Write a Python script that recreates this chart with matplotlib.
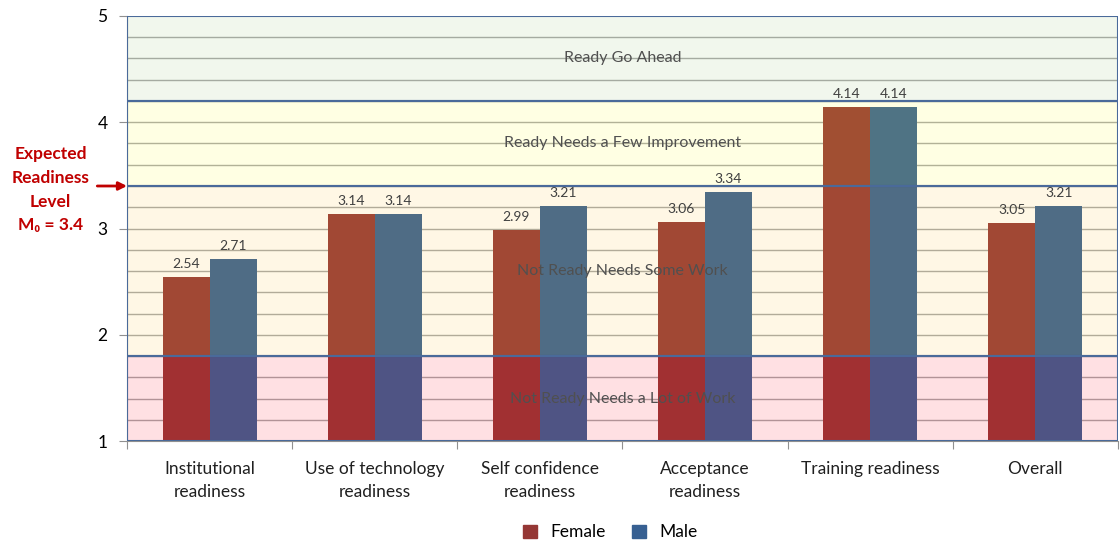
import matplotlib.pyplot as plt
import matplotlib.patches as mpatches
import numpy as np

plt.rcParams['font.family'] = ['Lato', 'DejaVu Sans']

# readiness scores per dimension
categories = ["Institutional\nreadiness", "Use of technology\nreadiness", "Self confidence\nreadiness",
              "Acceptance\nreadiness", "Training readiness", "Overall"]
female = [2.54, 3.14, 2.99, 3.06, 4.14, 3.05]
male = [2.71, 3.14, 3.21, 3.34, 4.14, 3.21]

# readiness zones (lower, upper, label)
zone_edges = [1.0, 1.8, 3.4, 4.2, 5.0]
zone_labels = ["Not Ready Needs a Lot of Work", "Not Ready Needs Some Work",
               "Ready Needs a Few Improvement", "Ready Go Ahead"]
expected_level = 3.4

female_color = "#953735"
male_color = "#376092"
zone_colors = [(1.0, 0.0, 0.12, 0.12), (1.0, 0.77, 0.18, 0.12),
               (1.0, 1.0, 0.12, 0.12), (0.57, 0.77, 0.44, 0.12)]
edge_color = "#4A6A9A"

fig = plt.figure(figsize=(11.2, 5.42), dpi=100)
ax = fig.add_axes([0.1134, 0.1863, 0.8846, 0.7842])

x = np.arange(len(categories)) + 0.5
w = 0.285

# light grid every 0.2
for yv in np.arange(1.2, 5.0, 0.2):
    ax.axhline(yv, color="#A8A8A8", lw=1, zorder=1)

b1 = ax.bar(x - w / 2, female, w, bottom=0, color=female_color, zorder=2)
b2 = ax.bar(x + w / 2, male, w, bottom=0, color=male_color, zorder=2)

for bars, vals in ((b1, female), (b2, male)):
    for rect, v in zip(bars, vals):
        ax.annotate("%.2f" % v, (rect.get_x() + rect.get_width() / 2, v),
                    xytext=(0, 5), textcoords="offset points", ha="center", va="bottom",
                    fontsize=10, color="#404040", zorder=5)

# translucent zones over the bars
for i, lab in enumerate(zone_labels):
    lo, hi = zone_edges[i], zone_edges[i + 1]
    ax.add_patch(mpatches.Rectangle((0, lo), len(categories), hi - lo, facecolor=zone_colors[i],
                                    edgecolor="none", zorder=3))
    ax.add_patch(mpatches.Rectangle((0, lo), len(categories), hi - lo, facecolor="none",
                                    edgecolor=edge_color, lw=1.5, zorder=4))
    ax.text(len(categories) / 2, (lo + hi) / 2, lab, ha="center", va="center",
            fontsize=11.5, color="#505050", zorder=5)

ax.set_xlim(0, len(categories))
ax.set_ylim(1, 5)
ax.set_yticks([1, 2, 3, 4, 5])
ax.set_xticks(np.arange(len(categories) + 1))
ax.set_xticklabels([])
ax.set_xticks(x, minor=True)
ax.set_xticklabels(categories, minor=True, fontsize=12.5, color="#202020", linespacing=1.55)
ax.tick_params(axis="x", which="minor", length=0, pad=14.5)
ax.tick_params(axis="x", which="major", length=6, color="#909090")
ax.tick_params(axis="y", length=6, color="#909090", labelsize=12.5, pad=8)
for s in ("top", "right"):
    ax.spines[s].set_visible(False)
ax.spines["left"].set_color("#909090")
ax.spines["bottom"].set_color("#909090")

# expected readiness marker
ax.annotate("", xy=(0, expected_level), xytext=(-0.18, expected_level),
            arrowprops=dict(arrowstyle="-|>", color="#C00000", lw=2, mutation_scale=12,
                            shrinkA=0, shrinkB=0),
            annotation_clip=False, zorder=6)
fig.text(0.045, 0.65, "Expected\nReadiness\nLevel\nM\u2080 = 3.4", ha="center", va="center",
         fontsize=12.5, fontweight="bold", color="#C00000", linespacing=1.6)

handles = [mpatches.Patch(color=female_color, label="Female"),
           mpatches.Patch(color=male_color, label="Male")]
fig.legend(handles=handles, loc="lower center", bbox_to_anchor=(0.545, -0.026), ncol=2,
           frameon=False, fontsize=12.5, handlelength=0.8, handleheight=0.8, columnspacing=1.5)

fig.savefig("out.png", dpi=100)
